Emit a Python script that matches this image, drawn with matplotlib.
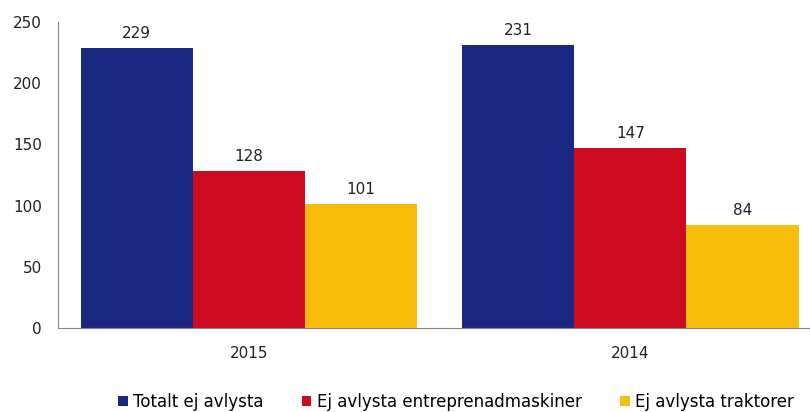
import numpy as np
import matplotlib
matplotlib.use('Agg')
import matplotlib.pyplot as plt

years = ['2015', '2014']
series_names = ['Totalt ej avlysta', 'Ej avlysta entreprenadmaskiner', 'Ej avlysta traktorer']
totalt = [229, 231]
entreprenad = [128, 147]
traktorer = [101, 84]
colors = ['#1a2780', '#cc0a20', '#f8bd0a']

plt.rcParams['font.family'] = ['DejaVu Sans']

fig = plt.figure(figsize=(8.10, 4.12), dpi=100)
# axes runs a bit past the right edge, like the original export
ax = fig.add_axes([0.0716, 0.204, 0.942, 0.743])

x = np.arange(len(years))
width = 0.294
for i, (vals, name) in enumerate(zip([totalt, entreprenad, traktorer], series_names)):
    bars = ax.bar(x + (i - 1) * width, vals, width, color=colors[i], label=name)
    ax.bar_label(bars, padding=5, fontsize=11, color='#222222')

ax.set_xlim(-0.5, 1.5)
ax.set_ylim(0, 250)
ax.set_yticks(range(0, 251, 50))
ax.set_xticks(x)
ax.set_xticklabels(years)
ax.tick_params(axis='both', length=0, labelsize=11, colors='#222222')
ax.tick_params(axis='y', pad=11.5)
ax.tick_params(axis='x', pad=13)
for s in ['top', 'right']:
    ax.spines[s].set_visible(False)
for s in ['left', 'bottom']:
    ax.spines[s].set_color('#888888')

ax.legend(loc='center', bbox_to_anchor=(0.522, -0.243), ncol=3, frameon=False,
          fontsize=12, handlelength=0.55, handleheight=0.55, handletextpad=0.35,
          columnspacing=2.3, borderpad=0)

plt.savefig('out.png', dpi=100)
